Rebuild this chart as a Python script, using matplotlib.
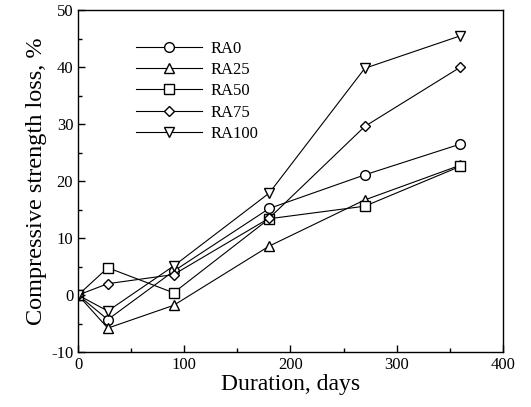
import matplotlib

matplotlib.use("Agg")
import matplotlib.pyplot as plt
from matplotlib.ticker import MultipleLocator

plt.rcParams["font.family"] = ["Liberation Serif", "DejaVu Serif"]
plt.rcParams["axes.unicode_minus"] = False

DAYS = [0, 28, 90, 180, 270, 360]
RA0 = [0, -4.3, 4.2, 15.2, 21.1, 26.5]
RA25 = [0, -5.8, -1.8, 8.6, 16.7, 22.8]
RA50 = [0, 4.8, 0.4, 13.4, 15.6, 22.6]
RA75 = [0, 2.0, 3.6, 13.5, 29.6, 40.0]
RA100 = [0, -2.8, 5.1, 17.9, 39.8, 45.5]

SERIES = [
    ("RA0", RA0, "o"),
    ("RA25", RA25, "^"),
    ("RA50", RA50, "s"),
    ("RA75", RA75, "D"),
    ("RA100", RA100, "v"),
]
MARKER_SIZES = {"o": 7, "^": 7.5, "s": 7.5, "D": 5.5, "v": 7.5}

fig = plt.figure(figsize=(5.31, 4.07), dpi=100)
ax = fig.add_axes([0.147, 0.135, 0.800, 0.840])

for label, values, marker in SERIES:
    ax.plot(
        DAYS,
        values,
        color="black",
        linewidth=0.8,
        marker=marker,
        markersize=MARKER_SIZES[marker],
        markerfacecolor="white",
        markeredgecolor="black",
        markeredgewidth=1.0,
        label=label,
    )

ax.set_xlim(0, 400)
ax.set_ylim(-10, 50)
ax.xaxis.set_major_locator(MultipleLocator(100))
ax.xaxis.set_minor_locator(MultipleLocator(50))
ax.yaxis.set_major_locator(MultipleLocator(10))
ax.yaxis.set_minor_locator(MultipleLocator(5))
ax.tick_params(which="both", direction="in", top=False, right=False, labelsize=12)
ax.tick_params(which="major", length=5, width=1.0)
ax.tick_params(which="minor", length=3, width=1.0)
for spine in ax.spines.values():
    spine.set_linewidth(1.0)

ax.set_xlabel("Duration, days", fontsize=17, labelpad=1)
ax.set_ylabel("Compressive strength loss, %", fontsize=17.5, labelpad=3)

ax.legend(
    loc="upper left",
    bbox_to_anchor=(0.1, 0.955),
    frameon=False,
    fontsize=12,
    handlelength=4.0,
    handletextpad=0.5,
    labelspacing=0.32,
)

fig.savefig("out.png", dpi=100)
